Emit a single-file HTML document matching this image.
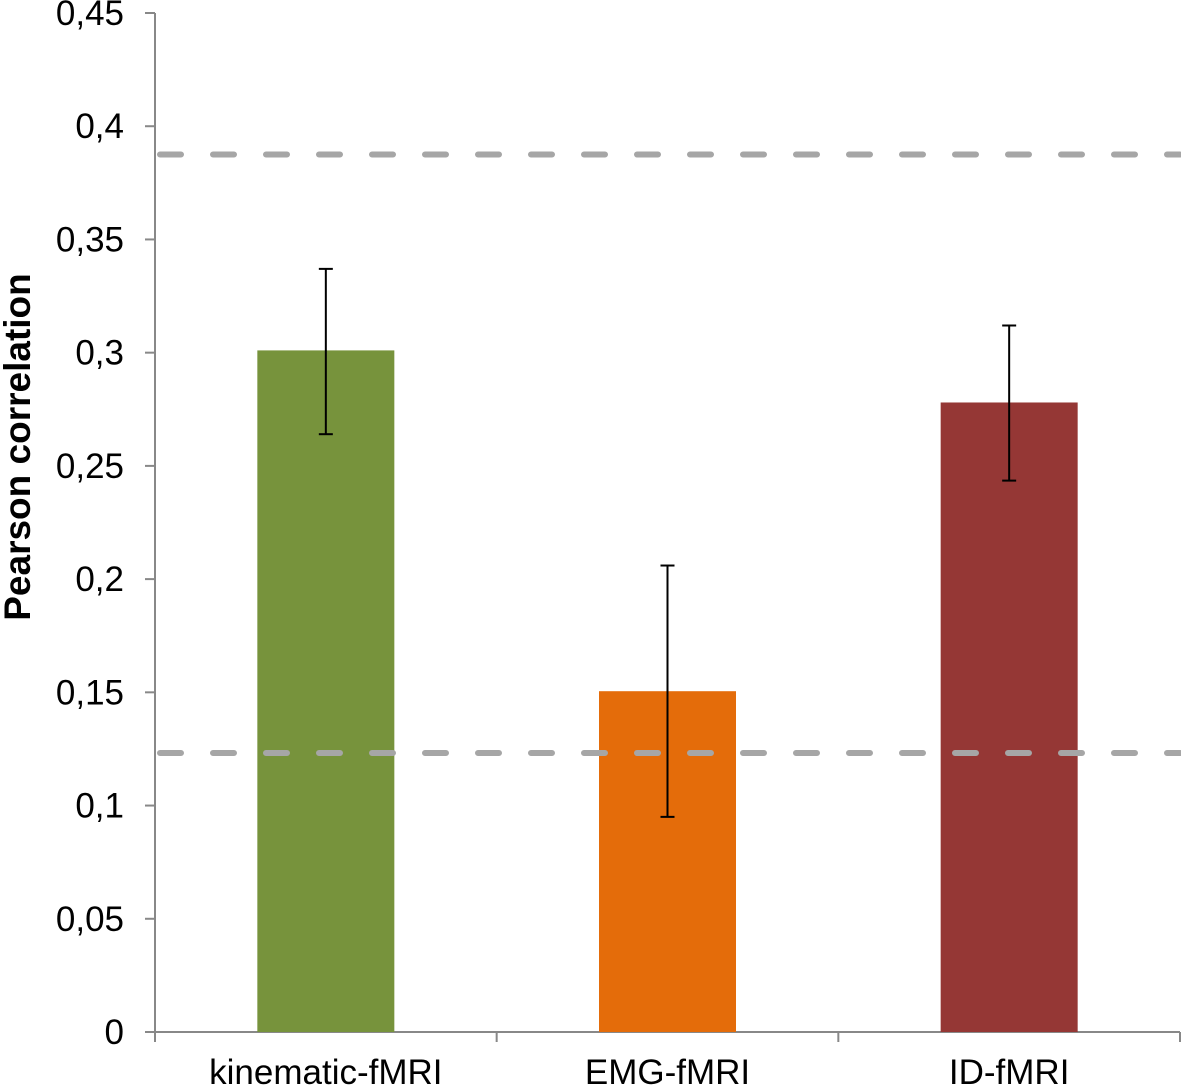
<!DOCTYPE html>
<html><head><meta charset="utf-8"><style>
html,body{margin:0;padding:0;background:#fff;}
svg{display:block;font-family:"Liberation Sans",Arial,sans-serif;}
</style></head><body>
<svg id="chart" width="1181" height="1086" viewBox="0 0 1181 1086" xmlns="http://www.w3.org/2000/svg"></svg>
<script>
const categories = ["kinematic-fMRI","EMG-fMRI","ID-fMRI"];
const values = [0.301, 0.1505, 0.278];
const errHigh = [0.337, 0.206, 0.312];
const errLow = [0.264, 0.095, 0.2435];
const colors = ["#77933c","#e46c0a","#953735"];
const refLines = [0.3875, 0.1232];
const yTicks = [0,0.05,0.1,0.15,0.2,0.25,0.3,0.35,0.4,0.45];
const yTickLabels = ["0","0,05","0,1","0,15","0,2","0,25","0,3","0,35","0,4","0,45"];

const NS="http://www.w3.org/2000/svg";
const svg=document.getElementById('chart');
const x0=155, x1=1180, yBase=1032, yTop=13, yMax=0.45;
const y=v=>yBase-(v/yMax)*(yBase-yTop);
const catW=(x1-x0)/categories.length;
const xc=i=>x0+catW*(i+0.5);
const barW=137;
function mk(tag,attrs){const e=document.createElementNS(NS,tag);for(const k in attrs)e.setAttribute(k,attrs[k]);svg.appendChild(e);return e;}

let e=mk('line',{x1:x0,y1:yTop,x2:x0,y2:yBase,stroke:'#888','stroke-width':2});


e=mk('line',{x1:x0,y1:yBase,x2:x1,y2:yBase,stroke:'#888','stroke-width':2});



yTicks.forEach((t,i)=>{
  const tk=mk('line',{x1:x0-10,y1:y(t),x2:x0,y2:y(t),stroke:'#888','stroke-width':2});
  
  
  const tx=mk('text',{x:124,y:y(t)+12,'text-anchor':'end','font-size':35,fill:'#000'});
  tx.textContent=yTickLabels[i];
  
  
});
for(let i=0;i<=categories.length;i++){
  const xx=x0+catW*i;
  const tk=mk('line',{x1:xx,y1:yBase,x2:xx,y2:yBase+10,stroke:'#888','stroke-width':2});
  
  
}

categories.forEach((c,i)=>{
  const b=mk('rect',{x:xc(i)-barW/2,y:y(values[i]),width:barW,height:yBase-y(values[i]),fill:colors[i]});
  
  
  const tx=mk('text',{x:xc(i),y:1084,'text-anchor':'middle','font-size':35,fill:'#000'});
  tx.textContent=c;
  
  
});

refLines.forEach(v=>{
  const l=mk('line',{x1:x0+5,y1:y(v),x2:x1,y2:y(v),stroke:'#a6a6a6','stroke-width':6,'stroke-dasharray':'21 32','stroke-linecap':'round'});
  
  
});

categories.forEach((c,i)=>{
  const g=document.createElementNS(NS,'g');svg.appendChild(g);
  
  
  const xx=xc(i);
  [[xx,y(errHigh[i]),xx,y(errLow[i])],[xx-7,y(errHigh[i]),xx+7,y(errHigh[i])],[xx-7,y(errLow[i]),xx+7,y(errLow[i])]].forEach(p=>{
    const l=document.createElementNS(NS,'line');
    l.setAttribute('x1',p[0]);l.setAttribute('y1',p[1]);l.setAttribute('x2',p[2]);l.setAttribute('y2',p[3]);
    l.setAttribute('stroke','#000');l.setAttribute('stroke-width',2);
    g.appendChild(l);
  });
});

const yt=mk('text',{x:0,y:0,transform:'translate(30,447) rotate(-90)','text-anchor':'middle','font-size':37,'font-weight':'bold',fill:'#000'});
yt.textContent='Pearson correlation';


</script>
</body></html>
